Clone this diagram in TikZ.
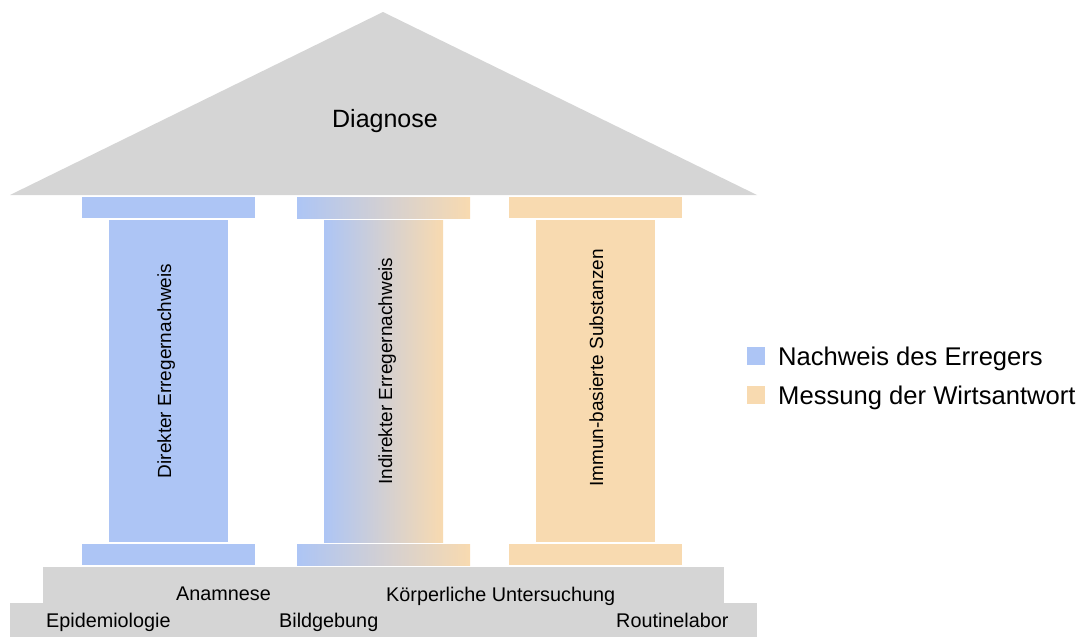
\documentclass[tikz,border=0pt]{standalone}
\usepackage{fontspec}
\setmainfont{Liberation Sans}
\usetikzlibrary{positioning}
\definecolor{stonegray}{HTML}{D5D5D5}
\definecolor{erregerblue}{HTML}{ADC5F5}
\definecolor{wirtorange}{HTML}{F8DAB0}
\tikzset{
  stone/.style={fill=stonegray},
  keybox/.style={inner sep=0pt, outer sep=0pt, minimum size=18pt},
  keytxt/.style={inner sep=0pt, font=\fontsize{25.6}{30}\selectfont},
  basetxt/.style={inner sep=0pt, anchor=base west, font=\fontsize{19.8}{23}\selectfont},
  pilltxt/.style={inner sep=0pt, rotate=90, anchor=base, font=\fontsize{19}{23}\selectfont}
}

\begin{document}
\begin{tikzpicture}[x=1pt,y=-1pt]
  \tikzset{shaft/.style={inner sep=0pt, outer sep=0pt, minimum width=119pt, minimum height=322pt}};
  \tikzset{pilB/.style={fill=erregerblue}};
  \tikzset{pilM/.style={left color=erregerblue, right color=wirtorange}};
  \tikzset{pilO/.style={fill=wirtorange}};

  \useasboundingbox (0,0) rectangle (1085,637);

  % Dach
  \fill[stone] (10,195) -- (383,12) -- (757,195) -- cycle;
  \node[inner sep=0pt, anchor=base, font=\fontsize{25}{30}\selectfont] (diag) at (385,127) {Diagnose};

  % Saeulen
  \foreach \x/\s/\n in {82/pilB/A, 297/pilM/B, 509/pilO/C} {
    \path[\s] (\x,197) rectangle ++(173,21);
    \path[\s] (\x,544) rectangle ++(173,21);
    \node[shaft, \s, anchor=north west] (pil\n) at (\x+27,220) {};
  }

  \node[pilltxt] (lblA) at (171,371) {Direkter Erregernachweis};
  \node[pilltxt] (lblB) at (392,371) {Indirekter Erregernachweis};
  \node[pilltxt] (lblC) at (603,368) {Immun-basierte Substanzen};

  % Stufen
  \fill[stone] (43,567) rectangle (724,603);
  \fill[stone] (10,603) rectangle (757,637);

  \node[basetxt] (epi) at (46,627) {Epidemiologie};
  \node[basetxt] (anam) at (176,600) {Anamnese};
  \node[basetxt] (bild) at (279,627) {Bildgebung};
  \node[basetxt] (koerp) at (386,601) {Körperliche Untersuchung};
  \node[basetxt] (rout) at (616,627) {Routinelabor};

  % Legende
  \node[keybox, fill=erregerblue, anchor=south west] (keyB) at (747,365) {};
  \node[keytxt, right=13pt of keyB.south east, anchor=base west] (txtB) {Nachweis des Erregers};
  \node[keybox, fill=wirtorange, anchor=south west] (keyO) at (747,404) {};
  \node[keytxt, right=13pt of keyO.south east, anchor=base west] (txtO) {Messung der Wirtsantwort};

\end{tikzpicture}
\end{document}
